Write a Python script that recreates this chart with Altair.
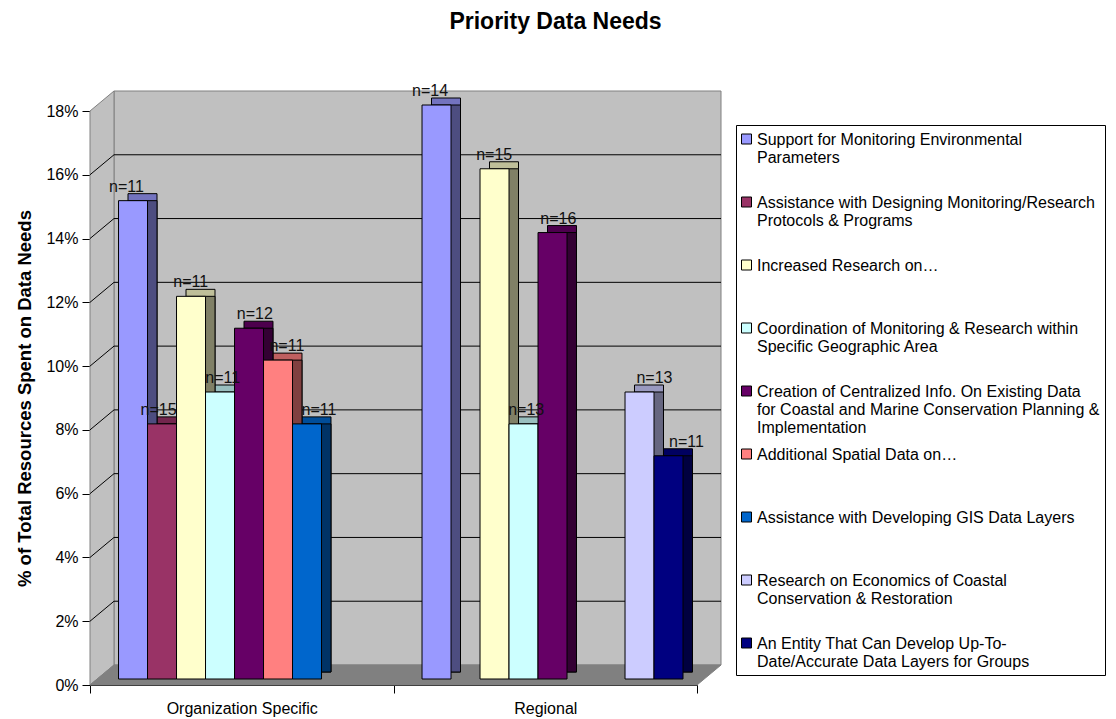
import altair as alt
import pandas as pd

# ---------------- data ----------------
categories = ["Organization Specific", "Regional"]
series = [
    "Support for Monitoring Environmental\nParameters",
    "Assistance with Designing Monitoring/Research\nProtocols & Programs",
    "Increased Research on\u2026",
    "Coordination of Monitoring & Research within\nSpecific Geographic Area",
    "Creation of Centralized Info. On Existing Data\nfor Coastal and Marine Conservation Planning &\nImplementation",
    "Additional Spatial Data on\u2026",
    "Assistance with Developing GIS Data Layers",
    "Research on Economics of Coastal\nConservation & Restoration",
    "An Entity That Can Develop Up-To-\nDate/Accurate Data Layers for Groups",
]
org_values = [0.15, 0.08, 0.12, 0.09, 0.11, 0.10, 0.08, None, None]
org_n = [11, 15, 11, 11, 12, 11, 11, None, None]
reg_values = [0.18, None, 0.16, 0.08, 0.14, None, None, 0.09, 0.07]
reg_n = [14, None, 15, 13, 16, None, None, 13, 11]

front_colors = ["#9999FF", "#993366", "#FFFFCC", "#CCFFFF", "#660066",
                "#FF8080", "#0066CC", "#CCCCFF", "#000080"]
top_colors = ["#7373BF", "#73264D", "#BFBF99", "#99BFBF", "#4D004D",
              "#BF6060", "#004D99", "#9999BF", "#000060"]
side_colors = ["#4D4D80", "#4D1A33", "#808066", "#668080", "#330033",
               "#804040", "#003366", "#666680", "#000040"]

rows = []
for cat, vals, ns in [(categories[0], org_values, org_n), (categories[1], reg_values, reg_n)]:
    for s, v, n in zip(series, vals, ns):
        if v is not None:
            rows.append({"category": cat, "series": s, "value": v, "label": f"n={n}"})
df = pd.DataFrame(rows)

# ---------------- layout ----------------
F = "Liberation Sans"
W, H = 607, 574
YMAX = 0.18
DX = 24                      # depth of the 3-D box in px (x)
DYPX = 20                    # depth of the 3-D box in px (y)
dy = YMAX * DYPX / H         # same depth in data units
grid_vals = [0.02, 0.04, 0.06, 0.08, 0.10, 0.12, 0.14, 0.16]

yscale = alt.Scale(domain=[0, YMAX], nice=False, zero=False)
yaxis = alt.Axis(format=".0%", values=[0, 0.02, 0.04, 0.06, 0.08, 0.10, 0.12, 0.14, 0.16, 0.18],
                 title="% of Total Resources Spent on Data Needs",
                 titleFontSize=18.5, titleFontWeight="bold", titlePadding=11,
                 labelFontSize=16, tickSize=8, labelPadding=4,
                 domainColor="black", tickColor="black")
px = alt.Scale(domain=[0, W], nice=False, zero=False)

wall_df = pd.DataFrame({"x0": [DX], "x1": [W + DX], "y0": [dy], "y1": [YMAX + dy]})
side_df = pd.DataFrame({"x": [0, DX], "y0": [0, dy], "y1": [YMAX, YMAX + dy]})
floor_df = pd.DataFrame({"x": [0, DX, W, W + DX], "y0": [0, 0, 0, dy], "y1": [0, dy, dy, dy]})
grid_rows = []
for g in grid_vals:
    grid_rows.append({"x0": DX, "x1": W + DX, "y0": g + dy, "y1": g + dy})
    grid_rows.append({"x0": 0, "x1": DX, "y0": g, "y1": g + dy})
grid_df = pd.DataFrame(grid_rows)

wall = alt.Chart(wall_df).mark_rect(fill="#C0C0C0", stroke="#808080", strokeWidth=1).encode(
    x=alt.X("x0:Q", scale=px, axis=None), x2="x1:Q",
    y=alt.Y("y0:Q", scale=yscale, axis=yaxis), y2="y1:Q")
side = alt.Chart(side_df).mark_area(fill="#C0C0C0", stroke="#808080", strokeWidth=1).encode(
    x=alt.X("x:Q", scale=px, axis=None),
    y=alt.Y("y0:Q", scale=yscale, axis=yaxis), y2="y1:Q")
floor = alt.Chart(floor_df).mark_area(fill="#808080", stroke="#808080", strokeWidth=1).encode(
    x=alt.X("x:Q", scale=px, axis=None),
    y=alt.Y("y0:Q", scale=yscale, axis=yaxis), y2="y1:Q")
grid = alt.Chart(grid_df).mark_rule(color="black", strokeWidth=1).encode(
    x=alt.X("x0:Q", scale=px, axis=None), x2="x1:Q",
    y=alt.Y("y0:Q", scale=yscale, axis=yaxis), y2="y1:Q")

xscale = alt.Scale(domain=categories, paddingInner=0, paddingOuter=0)
STEP_PAD = 0.733
off_front = alt.Scale(domain=series, paddingInner=0, paddingOuter=STEP_PAD, align=0.671)
off_back = alt.Scale(domain=series, paddingInner=0, paddingOuter=STEP_PAD, align=0.894)

base = alt.Chart(df)

top_copy = base.mark_bar(stroke="black", strokeWidth=1, yOffset=-13, y2Offset=-13).encode(
    x=alt.X("category:N", scale=xscale, axis=None),
    xOffset=alt.XOffset("series:N", scale=off_back),
    y=alt.Y("value:Q", scale=yscale, axis=yaxis), y2=alt.datum(0),
    color=alt.Color("series:N", scale=alt.Scale(domain=series, range=top_colors), legend=None))
side_copy = base.mark_bar(stroke="black", strokeWidth=1, yOffset=-6, y2Offset=-13).encode(
    x=alt.X("category:N", scale=xscale, axis=None),
    xOffset=alt.XOffset("series:N", scale=off_back),
    y=alt.Y("value:Q", scale=yscale, axis=yaxis), y2=alt.datum(0),
    color=alt.Color("series:N", scale=alt.Scale(domain=series, range=side_colors), legend=None))
front = base.mark_bar(stroke="black", strokeWidth=1, yOffset=-6, y2Offset=-6).encode(
    x=alt.X("category:N", scale=xscale,
            axis=alt.Axis(title=None, labelAngle=0, labelFontSize=16, tickBand="extent",
                          tickSize=8, labelPadding=7, domainColor="black", tickColor="black")),
    xOffset=alt.XOffset("series:N", scale=off_front),
    y=alt.Y("value:Q", scale=yscale, axis=yaxis), y2=alt.datum(0),
    color=alt.Color("series:N", scale=alt.Scale(domain=series, range=front_colors),
                    legend=alt.Legend(title=" ", titleFontSize=1, titlePadding=6,
                                      orient="none", legendX=646, legendY=14,
                                      direction="vertical", columns=1,
                                      labelExpr="split(datum.label, '\\n')",
                                      labelFontSize=16, labelFont=F, labelColor="black",
                                      labelLimit=420, labelBaseline="alphabetic", labelOffset=0,
                                      symbolType="M-1.5,-2.2H0.5V-0.2H-1.5Z", symbolSize=100,
                                      symbolStrokeColor="black", symbolStrokeWidth=1,
                                      symbolOpacity=1,
                                      gridAlign="all", rowPadding=11, padding=5,
                                      strokeColor="black", fillColor="white")))
labels = base.mark_text(font=F, fontSize=16, color="#111111", dx=5, dy=-15,
                        baseline="alphabetic").encode(
    x=alt.X("category:N", scale=xscale, axis=None),
    xOffset=alt.XOffset("series:N", scale=off_front),
    y=alt.Y("value:Q", scale=yscale, axis=yaxis),
    text="label:N")

chart = alt.layer(wall, side, floor, grid, top_copy, side_copy, front, labels).resolve_scale(
    x="independent", xOffset="independent", color="independent"
).properties(
    width=W, height=H,
    padding={"left": 82, "top": 103, "right": 411, "bottom": 34},
    autosize=alt.AutoSizeParams(type="none"),
    title=alt.TitleParams("Priority Data Needs", font=F, fontSize=23, fontWeight="bold",
                          color="black", anchor="middle", dx=162, offset=49),
).configure_view(stroke=None).configure_axis(
    grid=False, labelFont=F, titleFont=F, labelColor="black", titleColor="black"
)

chart.save("out.html", embed_options={"renderer": "svg", "actions": False})
